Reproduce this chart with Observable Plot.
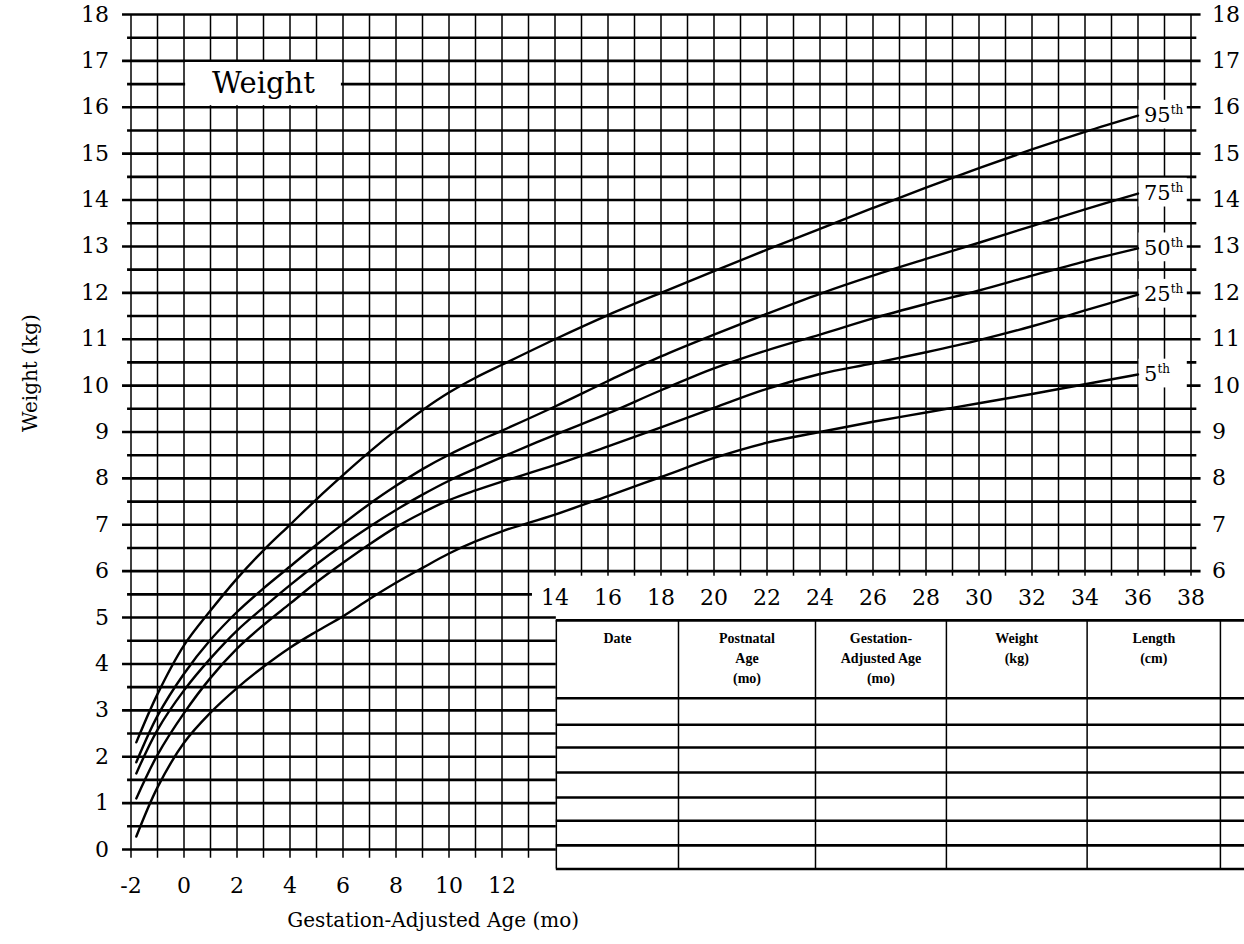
<!DOCTYPE html>
<html>
<head>
<meta charset="utf-8">
<script src="https://cdn.jsdelivr.net/npm/d3@7"></script>
<script src="https://cdn.jsdelivr.net/npm/@observablehq/plot@0.6"></script>
<style>
  html, body { margin: 0; padding: 0; background: #fff; }
  #chart svg { display: block; }
</style>
</head>
<body>
<div id="chart"></div>
<script>
// ---------- data ----------
const ages = [-1.8, -1, 0, 1, 2, 3, 4, 5, 6, 7, 8, 9, 10, 11, 12, 14, 16, 18, 20, 22, 24, 26, 28, 30, 32, 34, 36];
const p95 = [2.31, 3.35, 4.40, 5.15, 5.84, 6.45, 7.00, 7.55, 8.07, 8.57, 9.04, 9.47, 9.85, 10.17, 10.45, 11.00, 11.52, 12.00, 12.47, 12.93, 13.38, 13.83, 14.27, 14.69, 15.09, 15.47, 15.82];
const p75 = [1.88, 2.88, 3.79, 4.52, 5.12, 5.63, 6.10, 6.57, 7.02, 7.45, 7.84, 8.20, 8.51, 8.78, 9.03, 9.55, 10.10, 10.63, 11.10, 11.55, 11.98, 12.37, 12.73, 13.08, 13.44, 13.80, 14.14];
const p50 = [1.64, 2.58, 3.43, 4.12, 4.72, 5.22, 5.70, 6.15, 6.57, 6.96, 7.32, 7.65, 7.95, 8.21, 8.46, 8.94, 9.40, 9.90, 10.37, 10.76, 11.10, 11.45, 11.76, 12.05, 12.37, 12.68, 12.96];
const p25 = [1.10, 2.04, 2.94, 3.70, 4.33, 4.84, 5.30, 5.76, 6.18, 6.58, 6.95, 7.26, 7.53, 7.74, 7.93, 8.29, 8.69, 9.10, 9.52, 9.93, 10.25, 10.48, 10.72, 10.98, 11.28, 11.62, 11.96];
const p5  = [0.28, 1.34, 2.30, 2.95, 3.48, 3.94, 4.35, 4.70, 5.03, 5.40, 5.75, 6.07, 6.38, 6.64, 6.86, 7.22, 7.62, 8.03, 8.44, 8.77, 9.00, 9.22, 9.42, 9.62, 9.82, 10.03, 10.24];
const percentiles = ["95", "75", "50", "25", "5"];
const seriesValues = [p95, p75, p50, p25, p5];

const yTicksLeft = d3.range(0, 19);
const yTicksRight = d3.range(6, 19);
const xTicksLower = [-2, 0, 2, 4, 6, 8, 10, 12];
const xTicksUpper = [14, 16, 18, 20, 22, 24, 26, 28, 30, 32, 34, 36, 38];
const gridKg = d3.range(0, 36.5).map(i => i / 2);
const gridMonths = d3.range(-2, 39);

const titleText = "Weight";
const xLabel = "Gestation-Adjusted Age (mo)";
const yLabel = "Weight (kg)";
const tableHeaders = [["Date"], ["Postnatal", "Age", "(mo)"], ["Gestation-", "Adjusted Age", "(mo)"], ["Weight", "(kg)"], ["Length", "(cm)"]];

// ---------- layout (chart units: months / kg) ----------
const layout = {
  upperFrom: 6,
  lowerRight: 14.05,
  halfLineStop: 13.15,
  leftExtInt: -2.32, leftExtHalf: -2.13,
  rightExtInt: 38.38, rightExtHalf: 38.22,
  tickBelowLeft: -0.19, tickBelowRight: 5.89,
  titleBox: {x1: 0, x2: 6, y1: 16, y2: 17, x: 3, y: 16.5},
  tableCols: [14.05, 18.66, 23.83, 28.77, 34.08, 39.11],
  tableRight: 40.2,
  tableRows: [4.94, 3.26, 2.69, 2.20, 1.66, 1.12, 0.62, 0.09, -0.42],
  xLabelAt: 9.4
};

const rows = [];
percentiles.forEach((p, i) => ages.forEach((a, j) => rows.push({pct: p, age: a, w: seriesValues[i][j]})));
const endRows = percentiles.map((p, i) => ({pct: p, age: ages[ages.length - 1], w: seriesValues[i][seriesValues[i].length - 1]}));

const headerLines = [];
tableHeaders.forEach((lines, c) => lines.forEach((t, l) => headerLines.push({
  text: t, line: l, cx: (layout.tableCols[c] + layout.tableCols[c + 1]) / 2
})));

const serif = "DejaVu Serif";
const isInt = d => Math.abs(d - Math.round(d)) < 1e-9;

const marks = [
  Plot.ruleY(gridKg.filter(k => k >= layout.upperFrom), {
    y: d => d,
    x1: d => isInt(d) ? layout.leftExtInt : layout.leftExtHalf,
    x2: d => isInt(d) ? layout.rightExtInt : layout.rightExtHalf,
    stroke: "#000", strokeWidth: 2.6
  }),
  Plot.ruleY(gridKg.filter(k => k < layout.upperFrom), {
    y: d => d,
    x1: d => isInt(d) ? layout.leftExtInt : layout.leftExtHalf,
    x2: d => d === 5.5 ? layout.halfLineStop : layout.lowerRight,
    stroke: "#000", strokeWidth: 2.6
  }),
  Plot.ruleX(gridMonths, {
    x: d => d,
    y1: d => d <= 13 ? layout.tickBelowLeft : layout.tickBelowRight,
    y2: 18,
    stroke: "#000", strokeWidth: 1.5
  }),
  Plot.rect([layout.titleBox], {x1: "x1", x2: "x2", y1: "y1", y2: "y2", fill: "white", inset: 1.6}),
  Plot.text([titleText], {x: () => layout.titleBox.x, y: () => layout.titleBox.y, text: d => d, fontSize: 29, fontFamily: serif, fill: "#000"}),
  Plot.rect(endRows, {x1: d => d.age + 0.04, x2: d => d.age + 1.86, y1: d => d.w - 0.29, y2: d => d.w + 0.33, fill: "white"}),
  Plot.line(rows, {x: "age", y: "w", z: "pct", stroke: "#000", strokeWidth: 2.4, curve: "catmull-rom", strokeLinecap: "round"}),
  Plot.text(endRows, {x: "age", y: "w", text: "pct", textAnchor: "start", dx: 6, dy: 0, fontSize: 21, fontFamily: serif, fill: "#000", ariaDescription: "percentile-labels"}),
  Plot.axisY({anchor: "left", ticks: yTicksLeft, tickSize: 0, tickPadding: 22, fontSize: 22, fontFamily: serif, label: null, tickFormat: d => String(d)}),
  Plot.axisY({anchor: "right", ticks: yTicksRight, tickSize: 0, tickPadding: 21, fontSize: 22, fontFamily: serif, label: null, tickFormat: d => String(d)}),
  Plot.axisX({anchor: "bottom", ticks: xTicksLower, tickSize: 0, tickPadding: 28, fontSize: 22, fontFamily: serif, label: null, tickFormat: d => String(d)}),
  Plot.text(xTicksUpper, {x: d => d, y: () => layout.upperFrom, dy: 27, text: d => String(d), fontSize: 22, fontFamily: serif, fill: "#000"}),
  Plot.text([xLabel], {x: () => layout.xLabelAt, y: () => 0, dy: 71, text: d => d, fontSize: 20, fontFamily: serif, fill: "#000"}),
  Plot.text([yLabel], {frameAnchor: "left", text: d => d, rotate: -90, dx: -100, fontSize: 20, fontFamily: serif, fill: "#000"}),
  Plot.ruleY(layout.tableRows, {y: d => d, x1: () => layout.tableCols[0], x2: () => layout.tableRight, stroke: "#000", strokeWidth: 2.6}),
  Plot.ruleX(layout.tableCols, {x: d => d, y1: () => layout.tableRows[layout.tableRows.length - 1], y2: () => layout.tableRows[0], stroke: "#000", strokeWidth: 1.5}),
  ...[0, 1, 2].map(l => Plot.text(headerLines.filter(h => h.line === l), {
    x: "cx", y: () => layout.tableRows[0], dy: 18 + 20 * l, text: "text",
    fontSize: 14, fontWeight: "bold", fontFamily: "Liberation Serif", fill: "#000"
  }))
];

const svg = Plot.plot({
  width: 1244,
  height: 944,
  marginTop: 14,
  marginBottom: 95,
  marginLeft: 130.5,
  marginRight: 53.5,
  x: {domain: [-2, 38]},
  y: {domain: [0, 18]},
  style: {background: "white", color: "#000", fontFamily: serif, overflow: "visible"},
  marks
});

// superscript "th" on the percentile labels
function addSuperscript(t) {
  const s = t.textContent;
  t.textContent = s;
  const ts = document.createElementNS("http://www.w3.org/2000/svg", "tspan");
  ts.setAttribute("font-size", "12");
  ts.setAttribute("dy", "-8");
  ts.textContent = "th";
  t.appendChild(ts);
}
let labelTexts = Array.from(svg.querySelectorAll('g[aria-description="percentile-labels"] text'));
if (labelTexts.length !== percentiles.length) {
  labelTexts = [];
  svg.querySelectorAll("g").forEach(g => {
    const ts = Array.from(g.children).filter(c => c.tagName.toLowerCase() === "text");
    if (ts.length === percentiles.length && ts.every((t, i) => t.textContent === percentiles[i])) labelTexts = ts;
  });
}
labelTexts.forEach(addSuperscript);

document.getElementById("chart").appendChild(svg);
</script>
</body>
</html>
